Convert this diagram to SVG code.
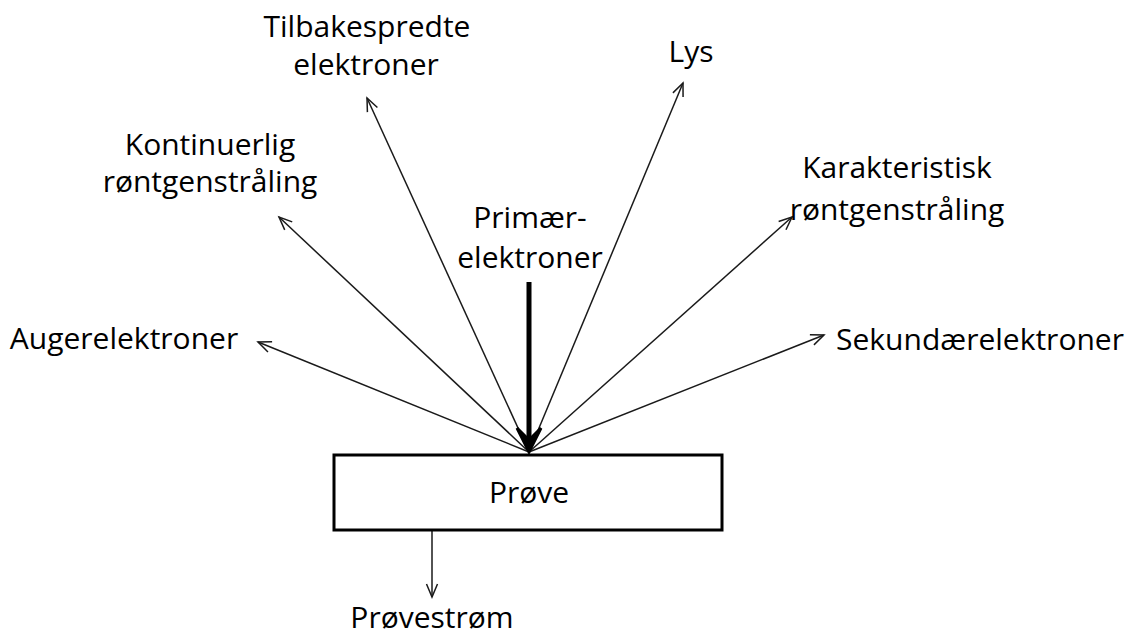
<svg xmlns="http://www.w3.org/2000/svg" width="1135" height="639" viewBox="0 0 1135 639">
<defs>
<style>
text{font-family:"Open Sans","Liberation Sans",sans-serif;font-size:30px;fill:#000;text-anchor:middle}
.ray{stroke:#1a1a1a;stroke-width:1.5;fill:none;marker-end:url(#ah)}
</style>
<marker id="ah" markerUnits="userSpaceOnUse" viewBox="-15 -10 20 20" markerWidth="20" markerHeight="20" refX="0" refY="0" orient="auto">
<path d="M-13,-5.5 L0,0 L-13,5.5" fill="none" stroke="#1a1a1a" stroke-width="1.5"/>
</marker>
</defs>
<rect width="1135" height="639" fill="#fff"/>
<g id="connectors">
<line class="ray" x1="529" y1="452" x2="258" y2="342"/>
<line class="ray" x1="529" y1="452" x2="279" y2="217"/>
<line class="ray" x1="529" y1="452" x2="367" y2="98"/>
<line class="ray" x1="529" y1="452" x2="683" y2="83"/>
<line class="ray" x1="529" y1="452" x2="792" y2="217"/>
<line class="ray" x1="529" y1="452" x2="824" y2="335"/>
<line class="ray" x1="432" y1="531" x2="432" y2="597"/>
<g id="primary-arrow">
<line x1="529" y1="282" x2="529" y2="446" stroke="#000" stroke-width="5"/>
<path d="M517,428 L529,452 L541,428 L529,440 Z" fill="#000" stroke="#000" stroke-width="3" stroke-linejoin="miter"/>
</g>
</g>
<g id="prove">
<rect x="334" y="455" width="388" height="75" fill="#fff" stroke="#000" stroke-width="3"/>
<text x="529" y="503">Prøve</text>
</g>
<g id="auger"><text x="124" y="349">Augerelektroner</text></g>
<g id="kontinuerlig"><text x="210" y="155">Kontinuerlig</text><text x="210" y="192">røntgenstråling</text></g>
<g id="tilbakespredte"><text x="367" y="37">Tilbakespredte</text><text x="366" y="75">elektroner</text></g>
<g id="primaer"><text x="530" y="228">Primær-</text><text x="530" y="268">elektroner</text></g>
<g id="lys"><text x="691" y="62">Lys</text></g>
<g id="karakteristisk"><text x="897" y="178">Karakteristisk</text><text x="897" y="220">røntgenstråling</text></g>
<g id="sekundaer"><text x="980" y="350">Sekundærelektroner</text></g>
<g id="provestrom"><text x="432" y="628">Prøvestrøm</text></g>
</svg>
